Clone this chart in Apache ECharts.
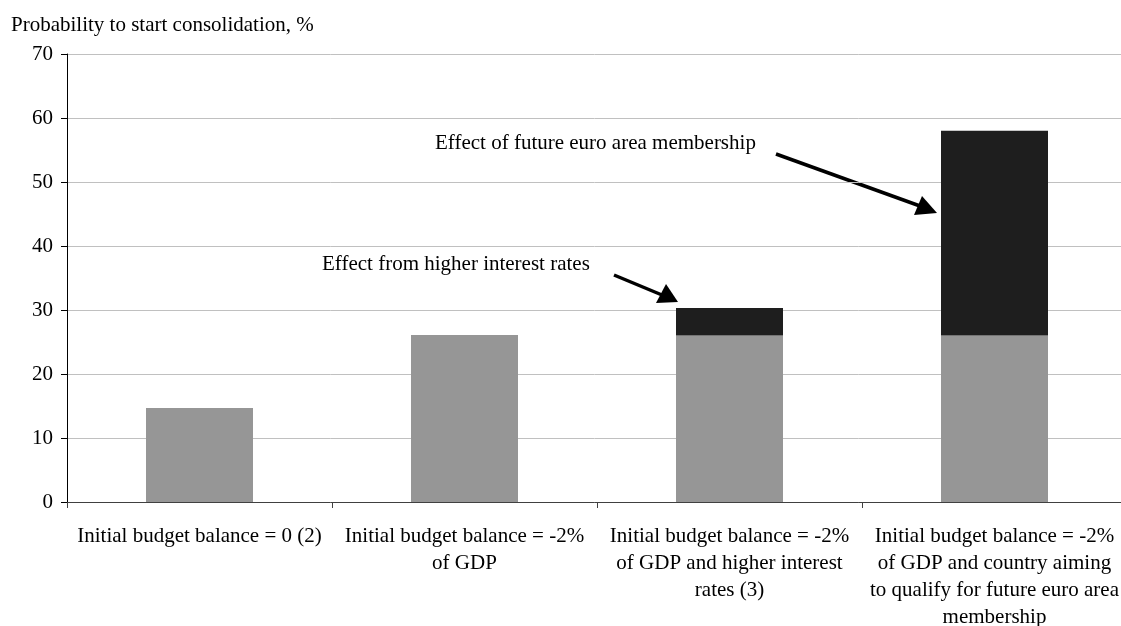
<!DOCTYPE html>
<html>
<head>
<meta charset="utf-8">
<script src="https://cdn.jsdelivr.net/npm/echarts@6/dist/echarts.min.js"></script>
<style>html,body{margin:0;padding:0;background:#fff}#c{width:1121px;height:626px}</style>
</head>
<body>
<div id="c"></div>
<script>
const categories = [
  "Initial budget balance = 0 (2)",
  "Initial budget balance = -2%\nof GDP",
  "Initial budget balance = -2%\nof GDP and higher interest\nrates (3)",
  "Initial budget balance = -2%\nof GDP and country aiming\nto qualify for future euro area\nmembership"
];
const baseValues = [14.7, 26.1, 26.0, 26.0];
const effectValues = [0, 0, 4.3, 32.0];
const yTicks = { min: 0, max: 70, interval: 10 };
const yTitle = "Probability to start consolidation, %";
const note1 = "Effect from higher interest rates";
const note2 = "Effect of future euro area membership";

const FONT = "Liberation Serif";
const chart = echarts.init(document.getElementById('c'), null, {renderer: 'canvas'});
chart.setOption({
  animation: false,
  backgroundColor: '#ffffff',
  textStyle: { fontFamily: FONT },
  title: {
    text: yTitle, left: 6, top: 10,
    textStyle: { fontFamily: FONT, fontSize: 21, fontWeight: 'normal', color: '#000' }
  },
  grid: { left: 67, right: -6, top: 54, bottom: 124, containLabel: false, outerBoundsMode: 'none' },
  xAxis: {
    type: 'category', data: categories,
    axisLine: { lineStyle: { color: '#404040', width: 1 } },
    axisTick: { show: true, alignWithLabel: false, length: 6, lineStyle: { color: '#404040' } },
    axisLabel: { interval: 0, fontFamily: FONT, fontSize: 21, color: '#000', margin: 21, lineHeight: 27 }
  },
  yAxis: {
    type: 'value', min: yTicks.min, max: yTicks.max, interval: yTicks.interval,
    axisLine: { show: true, lineStyle: { color: '#000', width: 1 } },
    axisTick: { show: true, length: 6, lineStyle: { color: '#000' } },
    axisLabel: { fontFamily: FONT, fontSize: 21, color: '#000', margin: 14 },
    splitLine: { show: true, lineStyle: { color: '#c0c0c0', width: 1 } }
  },
  series: [
    { type: 'bar', stack: 's', data: baseValues, barWidth: 107, itemStyle: { color: '#969696' } },
    { type: 'bar', stack: 's', data: effectValues, barWidth: 107, itemStyle: { color: '#1e1e1e' } }
  ],
  graphic: [
    { type: 'text', left: 322, top: 254, style: { text: note1, font: '21px "Liberation Serif"', fill: '#000' } },
    { type: 'text', left: 435, top: 133, style: { text: note2, font: '21px "Liberation Serif"', fill: '#000' } },
    { type: 'line', shape: { x1: 614, y1: 275, x2: 662, y2: 295 }, style: { stroke: '#000', lineWidth: 3.5 } },
    { type: 'polygon', shape: { points: [[678, 302], [656, 303], [666, 284]] }, style: { fill: '#000' } },
    { type: 'line', shape: { x1: 776, y1: 154, x2: 920, y2: 206 }, style: { stroke: '#000', lineWidth: 3.5 } },
    { type: 'polygon', shape: { points: [[937, 213], [914, 215], [922, 196]] }, style: { fill: '#000' } }
  ]
});
</script>
</body>
</html>
